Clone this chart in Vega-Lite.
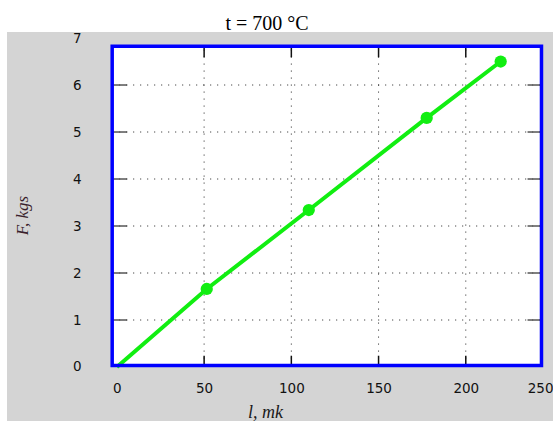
{
  "$schema": "https://vega.github.io/schema/vega-lite/v6.json",
  "width": 546,
  "height": 389,
  "autosize": {"type": "none"},
  "padding": {"left": 7, "top": 32, "right": 0, "bottom": 0},
  "background": "white",
  "title": {"text": "t = 700 °C", "font": "Liberation Serif", "fontSize": 20, "fontWeight": "normal", "color": "#000000", "anchor": "middle", "frame": "group", "offset": 3, "baseline": "alphabetic", "dx": -13, "dy": 22},
  "config": {
    "view": {"fill": "#d4d4d4", "stroke": null},
    "axis": {"labelFont": "DejaVu Sans", "labelFontSize": 13.5, "labelColor": "#111111", "domain": false, "ticks": false, "grid": false}
  },
  "datasets": {
    "measurements": [
      {"l": 0, "F": 0},
      {"l": 51.5, "F": 1.66},
      {"l": 110, "F": 3.34},
      {"l": 177.6, "F": 5.3},
      {"l": 220, "F": 6.5}
    ],
    "yGrid": [{"F": 1}, {"F": 2}, {"F": 3}, {"F": 4}, {"F": 5}, {"F": 6}],
    "xGrid": [{"l": 50}, {"l": 100}, {"l": 150}, {"l": 200}],
    "frame": [{"part": "plot area"}]
  },
  "layer": [
    {
      "data": {"name": "frame"},
      "mark": {"type": "rect", "fill": "#ffffff", "stroke": null},
      "encoding": {
        "x": {"datum": -2.7, "type": "quantitative",
          "scale": {"domain": [-63, 250], "nice": false, "zero": false},
          "axis": {"values": [0, 50, 100, 150, 200, 250], "offset": -42, "labelPadding": 2, "labelFlush": true,
            "title": "l, mk", "titleFont": "Liberation Serif", "titleFontStyle": "italic", "titleFontWeight": "normal", "titleFontSize": 18, "titleColor": "#1a1a1a",
            "titleX": 258, "titleY": 33, "titleAlign": "center", "titleBaseline": "middle"}},
        "x2": {"datum": 243.4},
        "y": {"datum": 0.03, "type": "quantitative",
          "scale": {"domain": [-1.149, 7.128], "nice": false, "zero": false},
          "axis": {"values": [0, 1, 2, 3, 4, 5, 6, 7], "offset": -76, "labelPadding": 2,
            "title": "F, kgs", "titleFont": "Liberation Serif", "titleFontStyle": "italic", "titleFontWeight": "normal", "titleFontSize": 17, "titleColor": "#3a1f2c",
            "titleX": -61, "titleY": 183, "titleAngle": -90, "titleAlign": "center", "titleBaseline": "middle"}},
        "y2": {"datum": 6.826}
      }
    },
    {
      "data": {"name": "yGrid"},
      "mark": {"type": "rule", "color": "#222222", "strokeWidth": 1, "strokeDash": [1, 6]},
      "encoding": {
        "y": {"field": "F", "type": "quantitative"},
        "x": {"datum": -2.7, "type": "quantitative"},
        "x2": {"datum": 243.4}
      }
    },
    {
      "data": {"name": "xGrid"},
      "mark": {"type": "rule", "color": "#222222", "strokeWidth": 1, "strokeDash": [1, 6]},
      "encoding": {
        "x": {"field": "l", "type": "quantitative"},
        "y": {"datum": 0.03, "type": "quantitative"},
        "y2": {"datum": 6.826}
      }
    },
    {
      "data": {"name": "yGrid"},
      "mark": {"type": "rule", "color": "#555555", "strokeWidth": 1.5},
      "encoding": {
        "y": {"field": "F", "type": "quantitative"},
        "x": {"datum": -2.7, "type": "quantitative"},
        "x2": {"datum": 5.9}
      }
    },
    {
      "data": {"name": "yGrid"},
      "mark": {"type": "rule", "color": "#555555", "strokeWidth": 1.5},
      "encoding": {
        "y": {"field": "F", "type": "quantitative"},
        "x": {"datum": 235.4, "type": "quantitative"},
        "x2": {"datum": 243.4}
      }
    },
    {
      "data": {"name": "xGrid"},
      "mark": {"type": "rule", "color": "#111111", "strokeWidth": 1.5},
      "encoding": {
        "x": {"field": "l", "type": "quantitative"},
        "y": {"datum": 6.59, "type": "quantitative"},
        "y2": {"datum": 6.826}
      }
    },
    {
      "data": {"name": "xGrid"},
      "mark": {"type": "rule", "color": "#111111", "strokeWidth": 1.5},
      "encoding": {
        "x": {"field": "l", "type": "quantitative"},
        "y": {"datum": 0.03, "type": "quantitative"},
        "y2": {"datum": 0.24}
      }
    },
    {
      "data": {"name": "measurements"},
      "mark": {"type": "line", "color": "#11ee11", "strokeWidth": 4},
      "encoding": {
        "x": {"field": "l", "type": "quantitative"},
        "y": {"field": "F", "type": "quantitative"}
      }
    },
    {
      "data": {"name": "measurements"},
      "transform": [{"filter": "datum.l > 0"}],
      "mark": {"type": "point", "filled": true, "shape": "circle", "size": 150, "color": "#11ee11", "opacity": 1},
      "encoding": {
        "x": {"field": "l", "type": "quantitative"},
        "y": {"field": "F", "type": "quantitative"}
      }
    },
    {
      "data": {"name": "frame"},
      "mark": {"type": "rect", "fill": null, "fillOpacity": 0, "stroke": "#0000ff", "strokeWidth": 3.5},
      "encoding": {
        "x": {"datum": -2.7, "type": "quantitative"},
        "x2": {"datum": 243.4},
        "y": {"datum": 0.03, "type": "quantitative"},
        "y2": {"datum": 6.826}
      }
    }
  ]
}
